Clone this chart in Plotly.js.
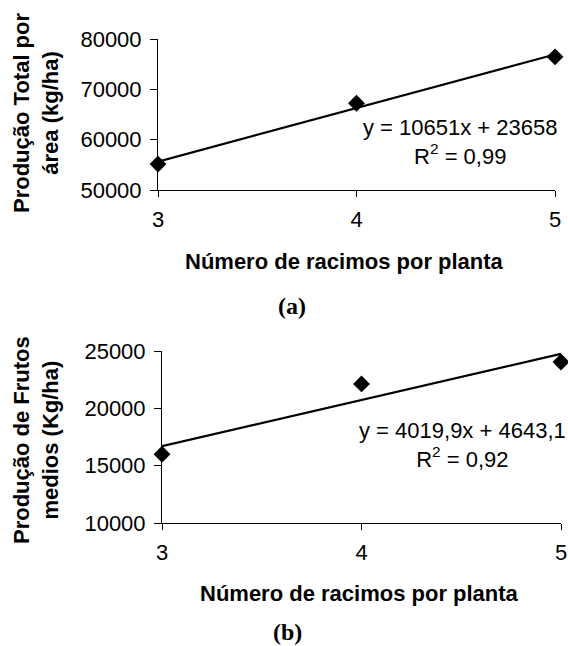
<!DOCTYPE html>
<html>
<head>
<meta charset="utf-8">
<script src="https://cdn.plot.ly/plotly-3.0.1.min.js"></script>
<style>html,body{margin:0;padding:0;background:#fff;}#chart{width:568px;height:646px;}</style>
</head>
<body>
<div id="chart"></div>
<script>
// ---- data ----
const racimos = [3, 4, 5];
const prodTotal = [55150, 67250, 76450];     // Produção Total por área (kg/ha)
const prodMedios = [16000, 22130, 24040];    // Produção de Frutos medios (Kg/ha)
const xTicks = [3, 4, 5];
const yTicksA = [50000, 60000, 70000, 80000];
const yTicksB = [10000, 15000, 20000, 25000];
const eqA = "y = 10651x + 23658<br>R<sup>2</sup> = 0,99";
const eqB = "y = 4019,9x + 4643,1<br>R<sup>2</sup> = 0,92";

function fit(xs, ys) {
  const n = xs.length;
  const mx = xs.reduce((a, b) => a + b, 0) / n;
  const my = ys.reduce((a, b) => a + b, 0) / n;
  let sxy = 0, sxx = 0;
  for (let i = 0; i < n; i++) { sxy += (xs[i] - mx) * (ys[i] - my); sxx += (xs[i] - mx) ** 2; }
  const m = sxy / sxx, b = my - m * mx;
  const x0 = Math.min(...xs), x1 = Math.max(...xs);
  return { x: [x0, x1], y: [m * x0 + b, m * x1 + b] };
}
const fA = fit(racimos, prodTotal);
const fB = fit(racimos, prodMedios);

const FONT = "Arial, 'Liberation Sans', sans-serif";
const W = 568, H = 646;
const px = v => v / W, py = v => 1 - v / H;

const lineStyle = { color: "#000", width: 2.2 };
const mk = { symbol: "diamond", size: 13, color: "#000" };

const traces = [
  { x: fA.x, y: fA.y, mode: "lines", line: lineStyle, xaxis: "x", yaxis: "y", cliponaxis: false },
  { x: racimos, y: prodTotal, mode: "markers", marker: mk, xaxis: "x", yaxis: "y", cliponaxis: false },
  { x: fB.x, y: fB.y, mode: "lines", line: lineStyle, xaxis: "x2", yaxis: "y2", cliponaxis: false },
  { x: racimos, y: prodMedios, mode: "markers", marker: mk, xaxis: "x2", yaxis: "y2", cliponaxis: false }
];

const tickFont = { family: FONT, size: 22, color: "#000" };
function xax(domain, anchor) {
  return {
    domain: domain, anchor: anchor, range: [3, 5], tickvals: xTicks, ticktext: xTicks.map(String),
    showgrid: false, zeroline: false, showline: true, linecolor: "#000", linewidth: 1,
    ticks: "outside", ticklen: 6, tickcolor: "#000", tickfont: tickFont, fixedrange: true,
    ticklabelstandoff: 4
  };
}
function yax(domain, anchor, range, vals) {
  return {
    domain: domain, anchor: anchor, range: range, tickvals: vals, ticktext: vals.map(String),
    showgrid: false, zeroline: false, showline: true, linecolor: "#000", linewidth: 1,
    ticks: "outside", ticklen: 7, tickcolor: "#000", tickfont: tickFont, fixedrange: true,
    ticklabelstandoff: 4
  };
}

const titleFont = { family: FONT, size: 22, color: "#000" };
const eqFont = { family: FONT, size: 22, color: "#000" };
const capFont = { family: "'Times New Roman', 'Liberation Serif', serif", size: 24, color: "#000" };

const layout = {
  width: W, height: H,
  margin: { l: 0, r: 0, t: 0, b: 0 },
  paper_bgcolor: "#fff", plot_bgcolor: "#fff",
  showlegend: false,
  xaxis: xax([px(158), px(555)], "y"),
  yaxis: yax([py(190), py(39)], "x", [50000, 80000], yTicksA),
  xaxis2: xax([px(162), px(561)], "y2"),
  yaxis2: yax([py(523), py(351)], "x2", [10000, 25000], yTicksB),
  annotations: [
    { text: "<b>Produção Total por<br>área (kg/ha)</b>", textangle: -90, xref: "paper", yref: "paper",
      x: px(36), y: py(113), xanchor: "center", yanchor: "middle", showarrow: false, font: titleFont },
    { text: "<b>Número de racimos por planta</b>", xref: "paper", yref: "paper",
      x: px(344), y: py(261), xanchor: "center", yanchor: "middle", showarrow: false, font: titleFont },
    { text: "<b>(a)</b>", xref: "paper", yref: "paper",
      x: px(292), y: py(306), xanchor: "center", yanchor: "middle", showarrow: false, font: capFont },
    { text: eqA, xref: "paper", yref: "paper", align: "center",
      x: px(460), y: py(142), xanchor: "center", yanchor: "middle", showarrow: false, font: eqFont },
    { text: "<b>Produção de Frutos<br>medios (Kg/ha)</b>", textangle: -90, xref: "paper", yref: "paper",
      x: px(36), y: py(440), xanchor: "center", yanchor: "middle", showarrow: false, font: titleFont },
    { text: "<b>Número de racimos por planta</b>", xref: "paper", yref: "paper",
      x: px(359), y: py(593), xanchor: "center", yanchor: "middle", showarrow: false, font: titleFont },
    { text: "<b>(b)</b>", xref: "paper", yref: "paper",
      x: px(287), y: py(632), xanchor: "center", yanchor: "middle", showarrow: false, font: capFont },
    { text: eqB, xref: "paper", yref: "paper", align: "center",
      x: px(462), y: py(445), xanchor: "center", yanchor: "middle", showarrow: false, font: eqFont }
  ]
};

Plotly.newPlot("chart", traces, layout, { staticPlot: true, displayModeBar: false });
</script>
</body>
</html>
